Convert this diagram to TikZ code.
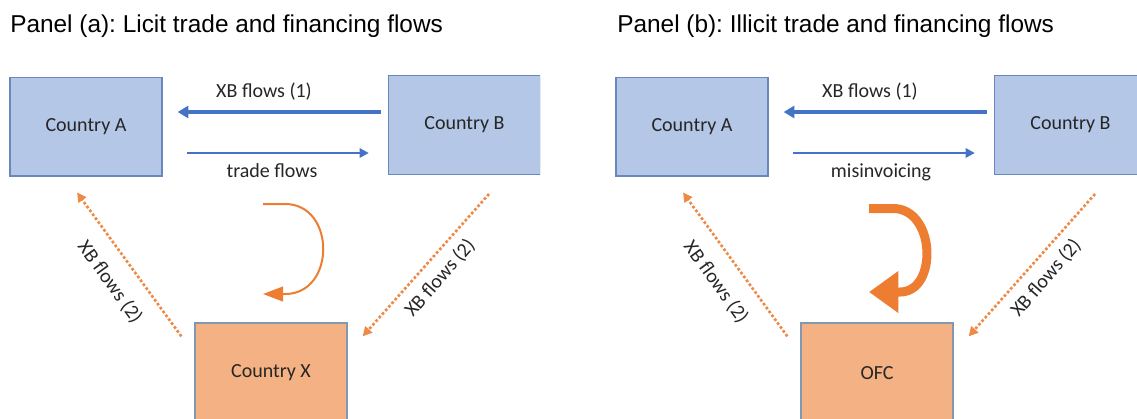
\documentclass[tikz,border=0pt]{standalone}
\usepackage{fontspec}
\setmainfont{Carlito}
\newfontfamily\titlefont{Liberation Sans}
\usepackage{tikz}
\usetikzlibrary{arrows.meta, positioning, calc}
\frenchspacing

\definecolor{boxblue}{HTML}{B4C7E7}
\definecolor{boxblueline}{HTML}{6A87BD}
\definecolor{boxorange}{HTML}{F4B183}
\definecolor{boxorangeline}{HTML}{8497B0}
\definecolor{flowblue}{HTML}{4472C4}
\definecolor{floworange}{HTML}{ED7D31}

\begin{document}
\begin{tikzpicture}[x=0.75pt, y=-0.75pt,
    country/.style={draw=boxblueline, line width=1pt, fill=boxblue, minimum width=114pt, minimum height=74pt, font=\fontsize{15}{18}\selectfont, text=black!85},
    haven/.style={draw=boxorangeline, line width=1pt, fill=boxorange, minimum width=114pt, minimum height=75pt, font=\fontsize{15}{18}\selectfont, text=black!85},
    lbl/.style={font=\fontsize{15}{18}\selectfont, text=black!85, inner sep=0pt},
    paneltitle/.style={font=\titlefont\fontsize{18.3}{22}\selectfont, anchor=base west, inner sep=0pt},
    xbarrow/.style={flowblue, line width=3pt, -{Triangle[length=8pt, width=9pt]}},
    tradearrow/.style={flowblue, line width=2pt, -{Triangle[length=7pt, width=7pt]}},
    dotarrow/.style={floworange!90, line width=2pt, dash pattern=on 2pt off 1.6pt, -{Triangle[length=7pt, width=7pt]}},
    curlthin/.style={floworange, line width=1.5pt, -{Triangle[length=15pt, width=11pt]}},
    curlthick/.style={floworange, line width=6.75pt, -{Triangle[length=22pt, width=30pt]}}]
    \useasboundingbox (0,0) rectangle (1137,418);

    % Panel (a)
    \node[paneltitle] (ta) at (10,32) {Panel (a): Licit trade and financing flows};
    \begin{scope}
    \clip (0,0) rectangle (540,418);
    \node[country] (aA) at (86,126.5) {Country A};
    \node[country] (aB) at (464.5,125) {Country B};
    \node[haven] (aX) at (271,373) {Country X};

    % direct flows between A and B
    \draw[xbarrow] ($(aB.west)+(-7,-13)$) -- ($(aA.east)+(15,-14.5)$);
    \draw[tradearrow] ($(aA.east)+(24,26.5)$) -- ($(aB.west)+(-19,28)$);
    \node[lbl] (ax1) at (264,92) {XB flows (1)};
    \node[lbl] (atr) at (272,171) {trade flows};

    % flows via third country
    \draw[dotarrow] ($(aX.north west)+(-13,14)$) -- ($(aA.south)+(-9,16)$);
    \draw[dotarrow] ($(aB.south)+(24.5,19)$) -- ($(aX.north east)+(15,14)$);
    \node[lbl, rotate=-54] (ax2l) at (110,282) {XB flows (2)};
    \node[lbl, rotate=49] (ax2r) at (440,278) {XB flows (2)};

    % turn arrow
    \coordinate (aC1) at (263,204);
    \coordinate (aC2) at (263,294);
    \draw[curlthin] (aC1) -- ++(22,0) .. controls +(51,0) and +(51,0) .. ($(aC2)+(22,0)$) -- (aC2);
    \end{scope}

    % Panel (b)
    \node[paneltitle] (tb) at (617,32) {Panel (b): Illicit trade and financing flows};
    \node[country] (bA) at (692,126.5) {Country A};
    \node[country] (bB) at (1070.5,125) {Country B};
    \node[haven] (bO) at (877,373) {OFC};

    % direct flows between A and B
    \draw[xbarrow] ($(bB.west)+(-7,-13)$) -- ($(bA.east)+(15,-14.5)$);
    \draw[tradearrow] ($(bA.east)+(24,26.5)$) -- ($(bB.west)+(-19,28)$);
    \node[lbl] (bx1) at (870,92) {XB flows (1)};
    \node[lbl] (bmi) at (881,172) {misinvoicing};

    % flows via the OFC
    \draw[dotarrow] ($(bO.north west)+(-13,14)$) -- ($(bA.south)+(-9,16)$);
    \draw[dotarrow] ($(bB.south)+(24.5,19)$) -- ($(bO.north east)+(15,14)$);
    \node[lbl, rotate=-54] (bx2l) at (716,282) {XB flows (2)};
    \node[lbl, rotate=49] (bx2r) at (1046,278) {XB flows (2)};

    % turn arrow
    \coordinate (bC1) at (869,208.5);
    \coordinate (bC2) at (869,292);
    \draw[curlthick] (bC1) -- ++(24,0) .. controls +(43,0) and +(38,0) .. ($(bC2)+(31,0)$) -- (bC2);
\end{tikzpicture}
\end{document}
